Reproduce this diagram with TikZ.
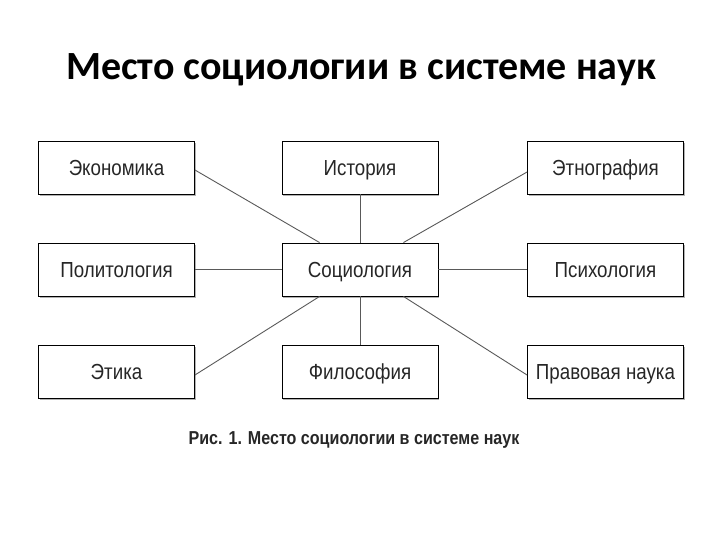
\documentclass[tikz,border=0pt]{standalone}
\usepackage{fontspec}
\setmainfont{Liberation Sans}
\newfontfamily\titlefont{Carlito}
\newfontfamily\boxfont[FakeStretch=0.86]{Liberation Sans}
\usetikzlibrary{shadows}
\definecolor{linegray}{gray}{0.35}
\begin{document}
\begin{tikzpicture}[x=1pt,y=-1pt,
  sbox/.style={draw=black, line width=0.9pt, fill=white, minimum width=156pt, minimum height=53pt,
    inner sep=0pt, font=\boxfont\fontsize{21.8}{26}\selectfont, text=black!85,
    text height=15.5pt, text depth=0pt,
    drop shadow={shadow xshift=1.2pt, shadow yshift=-1.8pt, fill=gray!60, opacity=1}},
  conn/.style={draw=linegray, line width=0.9pt},
  hconn/.style={draw=linegray, line width=1.6pt}]
\useasboundingbox (0,0) rectangle (720,540);
\node[font=\titlefont\bfseries\fontsize{40}{46}\selectfont] (title) at (361,70) {Место социологии в системе наук};
% boxes
\node[sbox] (econ)  at (116.5,167.5) {Экономика};
\node[sbox] (hist)  at (360,167.5) {История};
\node[sbox] (ethno) at (605.5,167.5) {Этнография};
\node[sbox] (pol)   at (116.5,269.5) {Политология};
\node[sbox] (soc)   at (360,269.5) {Социология};
\node[sbox] (psy)   at (605.5,269.5) {Психология};
\node[sbox] (eth)   at (116.5,371.5) {Этика};
\node[sbox] (phil)  at (360,371.5) {Философия};
\node[sbox] (law)   at (605.5,371.5) {Правовая наука};
% connectors
\draw[conn] ([yshift=-2.5pt]econ.east) -- ([xshift=38pt]soc.north west);
\draw[conn] ([yshift=-4.5pt]ethno.west) -- ([xshift=-35pt]soc.north east);
\draw[conn] ([yshift=-3.5pt]eth.east) -- ([xshift=38pt]soc.south west);
\draw[conn] ([yshift=-3.5pt]law.west) -- ([xshift=-35pt]soc.south east);
\draw[conn] (hist.south) -- (soc.north);
\draw[conn] (soc.south) -- (phil.north);
\draw[hconn] (pol.east) -- (soc.west);
\draw[hconn] (soc.east) -- (psy.west);
\node[font=\boxfont\bfseries\fontsize{18.7}{22}\selectfont, text=black!85] (cap) at (354,440) {Рис. 1. Место социологии в системе наук};
\end{tikzpicture}
\end{document}
